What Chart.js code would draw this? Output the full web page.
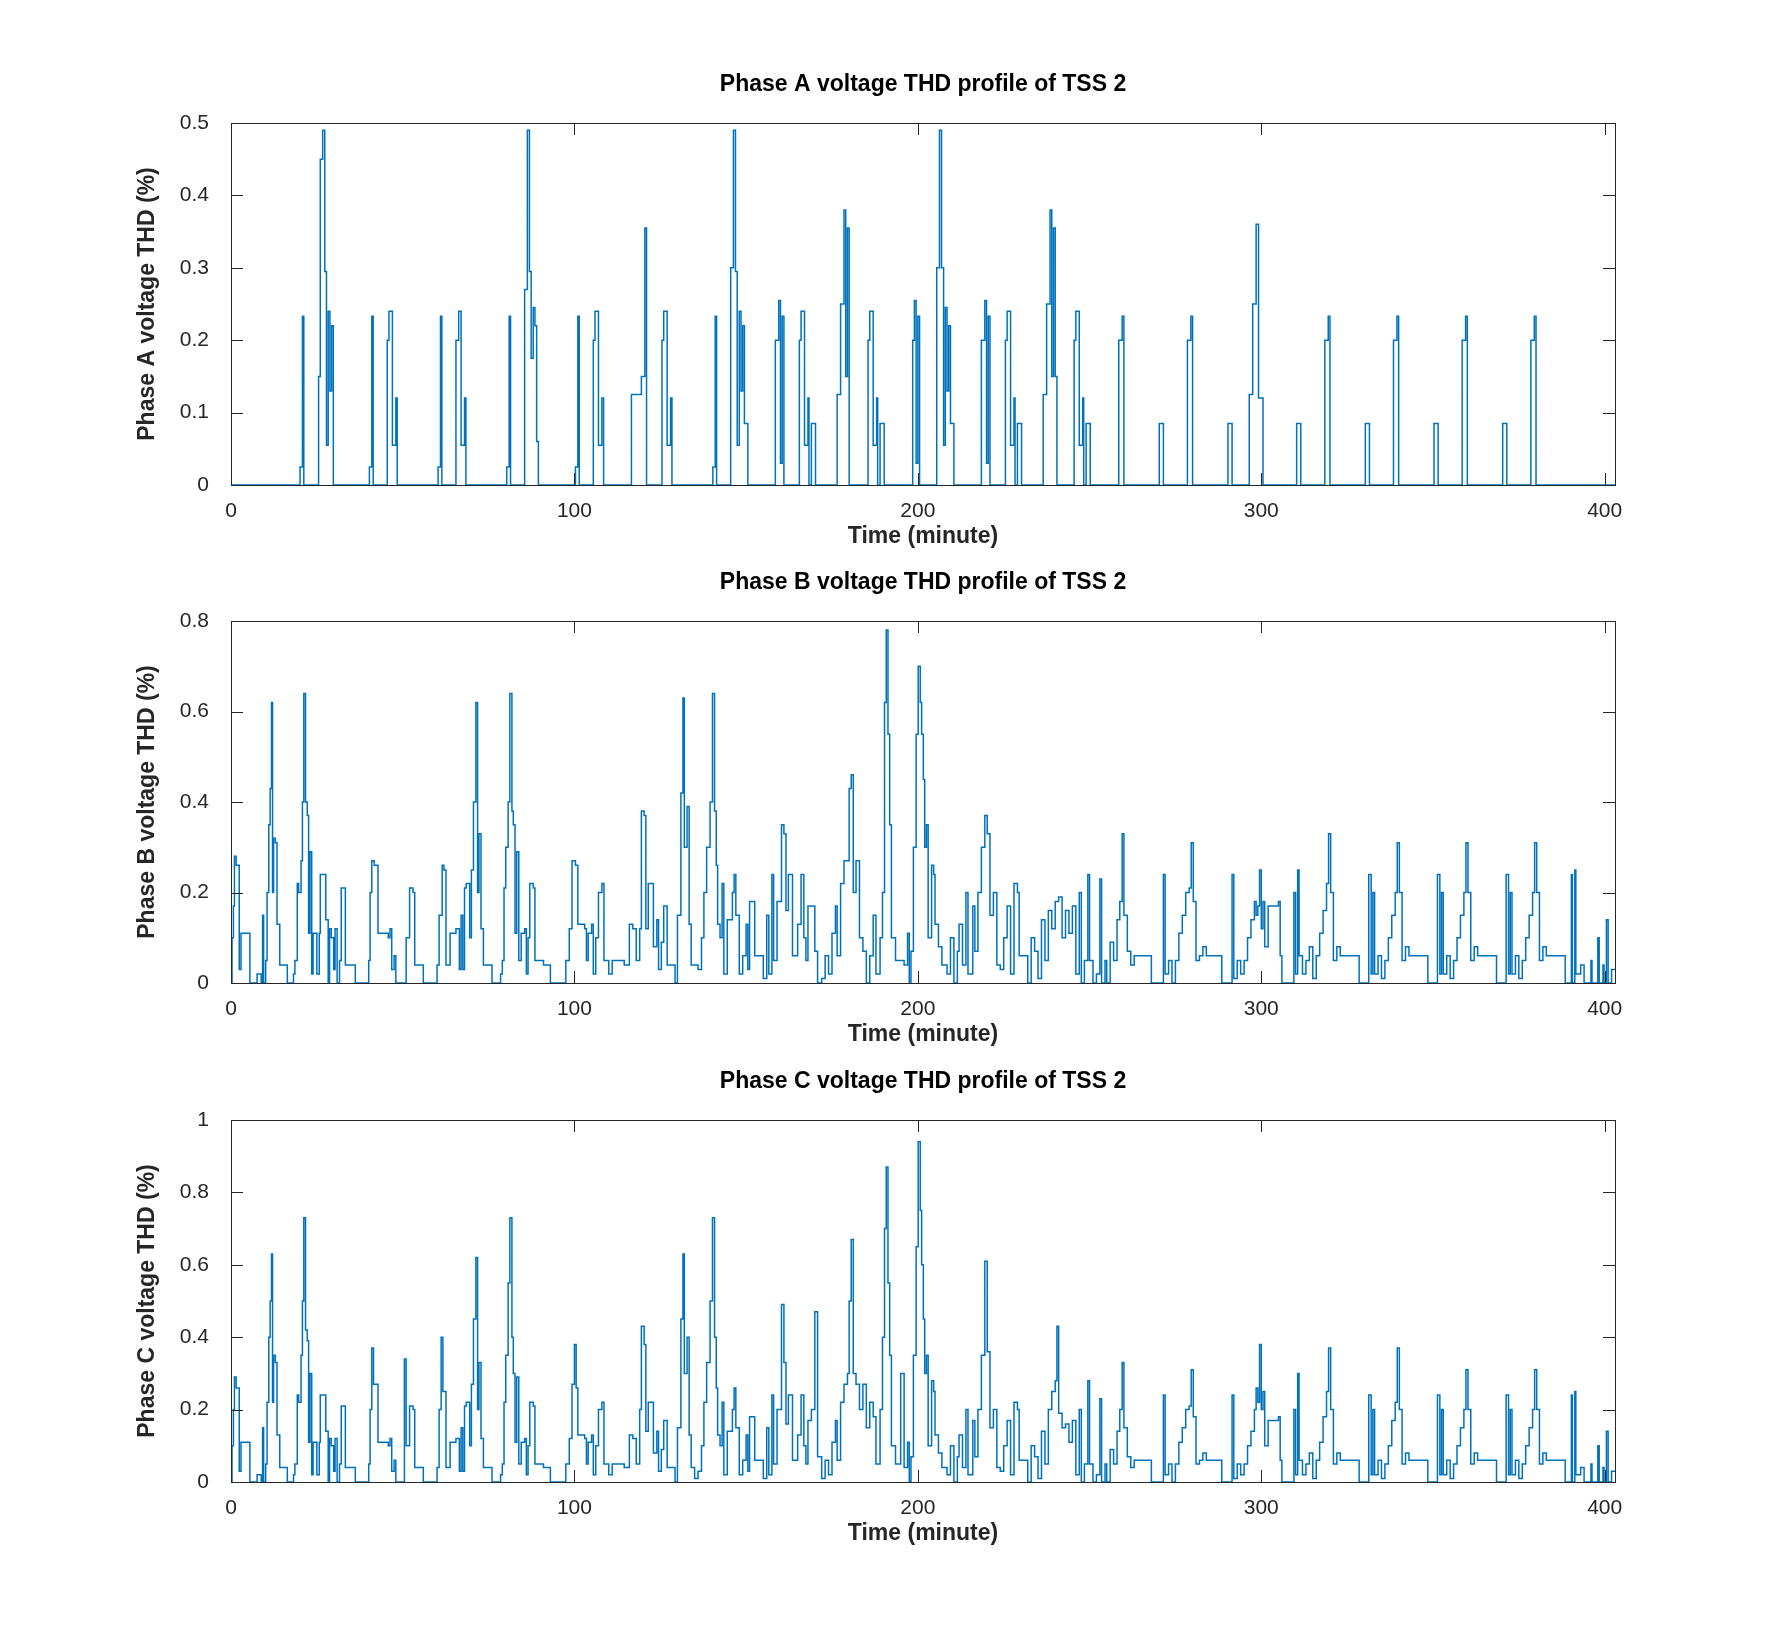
<!DOCTYPE html>
<html>
<head>
<meta charset="utf-8">
<script src="https://cdn.jsdelivr.net/npm/chart.js@4.4.1/dist/chart.umd.min.js"></script>
<style>
  body { margin: 0; background: #fff; }
  canvas { position: absolute; left: 0; }
</style>
</head>
<body>
<canvas id="chartA" width="1765" height="500" style="top:50px"></canvas>
<canvas id="chartB" width="1765" height="500" style="top:548px"></canvas>
<canvas id="chartC" width="1765" height="500" style="top:1047px"></canvas>
<script>
// Time (minute), THD (%) pairs
const phaseA = [
  [0,0],[20,0],[20.1,0.025],[20.8,0.233],[21.2,0],[25,0],[25.5,0.15],[26,0.45],[26.7,0.49],[27.3,0.295],[27.8,0.055],[28.3,0.24],[28.8,0.13],[29.3,0.22],[29.8,0],
  [40,0],[40.3,0.025],[41,0.233],[41.4,0],[45,0],[45.5,0.2],[46,0.24],[47,0.055],[48,0.12],[48.4,0],
  [60,0],[60.3,0.025],[61,0.233],[61.4,0],[65,0],[65.5,0.2],[66.3,0.24],[67,0.055],[68,0.12],[68.4,0],
  [80,0],[80.3,0.025],[81,0.233],[81.4,0],[85,0],[85.5,0.27],[86.3,0.49],[86.9,0.295],[87.4,0.175],[88,0.245],[88.5,0.22],[89,0.06],[89.5,0],
  [100,0],[100.3,0.025],[101,0.233],[101.4,0],[105,0],[105.5,0.2],[106,0.24],[107,0.055],[108,0.12],[108.5,0],
  [116.5,0],[116.6,0.125],[119.5,0.15],[120.5,0.355],[121,0],[125,0],[125.5,0.2],[126,0.24],[127,0.055],[128,0.12],[128.4,0],
  [140,0],[140.3,0.025],[141,0.233],[141.4,0],[145,0],[145.5,0.3],[146.3,0.49],[146.9,0.295],[147.4,0.055],[148,0.24],[148.5,0.13],[149,0.22],[149.5,0.085],[150.5,0],
  [158,0],[158.5,0.2],[159.5,0.255],[160,0.03],[160.5,0.233],[161,0],[165,0],[165.5,0.2],[166,0.24],[167,0.055],[168,0.12],[168.3,0],[169,0.085],[170.2,0],
  [176,0],[176.5,0.125],[177.5,0.25],[178.5,0.38],[179,0.15],[179.5,0.355],[180,0],[185,0],[185.5,0.2],[186,0.24],[187,0.055],[188,0.12],[188.3,0],[189,0.085],[190.2,0],
  [198,0],[198.5,0.2],[199,0.255],[199.5,0.03],[200,0.233],[200.5,0],[205,0],[205.5,0.3],[206.3,0.49],[206.9,0.3],[207.5,0.055],[208,0.245],[208.5,0.13],[209,0.22],[209.5,0.085],[210.5,0],
  [218,0],[218.5,0.2],[219.5,0.255],[220,0.03],[220.5,0.233],[221,0],[225,0],[225.5,0.2],[226,0.24],[227,0.055],[228,0.12],[228.3,0],[229,0.085],[230.2,0],
  [236,0],[236.5,0.125],[237.5,0.25],[238.5,0.38],[239,0.15],[239.5,0.355],[240,0.15],[240.5,0],[245,0],[245.5,0.2],[246,0.24],[247,0.055],[248,0.12],[248.3,0],[249,0.085],[250.2,0],
  [258,0],[258.5,0.2],[259.5,0.233],[260,0],[270,0],[270.3,0.085],[271.5,0],[278,0],[278.5,0.2],[279.5,0.233],[280,0],
  [290,0],[290.3,0.085],[291.5,0],[296,0],[296.5,0.125],[297.5,0.25],[298.5,0.36],[299.2,0.12],[300.5,0],
  [310,0],[310.3,0.085],[311.5,0],[318,0],[318.5,0.2],[319.5,0.233],[320,0],[330,0],[330.3,0.085],[331.5,0],
  [338,0],[338.5,0.2],[339.5,0.233],[340,0],[350,0],[350.3,0.085],[351.5,0],[358,0],[358.5,0.2],[359.5,0.233],[360,0],
  [370,0],[370.3,0.085],[371.5,0],[378,0],[378.5,0.2],[379.5,0.233],[380,0],[403,0]
];

const phaseB = [
  [0,0],[0.3,0.1],[0.7,0.17],[1,0.28],[1.5,0.26],[2.4,0.03],[2.9,0.11],[5.5,0],[7.6,0.02],[8.8,0],[9.2,0.15],[9.5,0],[10.1,0.05],[10.5,0.2],[11,0.35],[11.4,0.43],[11.8,0.62],[12.1,0.2],[12.4,0.32],[12.9,0.31],[13.4,0.13],[14.2,0.04],[16.4,0],
  [18.2,0.02],[18.6,0.05],[19.3,0.22],[19.7,0.2],[20.4,0.27],[20.8,0.4],[21.2,0.64],[21.7,0.4],[22.2,0.37],[22.6,0.11],[23,0.29],[23.5,0.02],[23.9,0.11],[25,0.02],[25.7,0.11],[26,0.24],[27,0.24],[27.6,0.14],[28.3,0],[28.7,0.12],[29.2,0.1],[29.9,0.03],[30.3,0.12],[30.9,0],[31.6,0.05],[32.1,0.21],[32.9,0.21],[33.3,0.04],[36.2,0],
  [39.5,0],[40.1,0.05],[40.5,0.2],[41,0.27],[41.7,0.26],[42.8,0.11],[45.8,0.1],[46.3,0.12],[46.8,0.03],[47.5,0.06],[48,0],[50,0],[51,0.1],[52,0.21],[53,0.2],[53.5,0.04],[56,0],
  [59,0],[60,0.04],[60.6,0.15],[61.5,0.26],[62,0.25],[62.6,0.04],[63.8,0.11],[65.5,0.12],[66.5,0.03],[67,0.15],[67.5,0.03],[68,0.21],[68.5,0.22],[69.5,0.1],[70,0.25],[70.6,0.4],[71.3,0.62],[71.8,0.2],[72.2,0.33],[72.8,0.12],[73.5,0.04],[76,0],
  [78.5,0.02],[79,0.05],[79.5,0.21],[80,0.3],[80.7,0.4],[81.2,0.64],[81.8,0.38],[82.2,0.35],[82.7,0.11],[83.2,0.29],[83.8,0.05],[84.5,0.11],[85.5,0.12],[86,0.02],[86.5,0.1],[87,0.22],[88,0.21],[88.5,0.05],[91,0.04],[93,0],
  [97,0],[97.5,0.05],[98.5,0.12],[99.3,0.27],[100.3,0.26],[101,0.13],[103,0.12],[103.5,0.05],[104,0.11],[105,0.13],[105.5,0.02],[106.2,0.1],[107,0.2],[108,0.22],[108.6,0.05],[110,0.02],[111,0.05],[113,0.05],[114.5,0.04],
  [116,0.13],[117,0.12],[118,0.05],[119,0.12],[119.5,0.38],[120.3,0.37],[120.8,0.12],[121.5,0.22],[122.5,0.22],[123,0.08],[124,0.14],[124.5,0.03],[125.3,0.09],[126,0.17],[127,0.04],[128.5,0.04],[129.3,0],
  [130,0.15],[131,0.42],[131.6,0.63],[132,0.3],[132.8,0.39],[133.4,0.13],[134,0.04],[136,0.03],[137,0.1],[137.7,0.2],[138.5,0.3],[139.5,0.4],[140.2,0.64],[140.8,0.38],[141.3,0.26],[141.7,0.13],[142.4,0.1],[143,0.22],[143.5,0.02],[144.5,0.14],
  [146,0.2],[146.5,0.24],[147,0.15],[148,0.02],[149,0.06],[150,0.13],[150.5,0.03],[151,0.18],[152.5,0.06],[155,0.01],[156,0.15],[156.6,0.02],[157.5,0.24],[158,0.05],[159,0.18],[160.3,0.35],[161,0.33],[161.6,0.16],[162.3,0.24],[163.5,0.06],
  [165,0.13],[166,0.24],[166.8,0.1],[167.4,0.05],[168,0.17],[169,0.17],[170,0.07],[170.8,0],[172,0.01],[173,0.06],[174,0.02],[175,0.11],[176,0.17],[176.5,0.06],[177.5,0.22],[178.5,0.27],[179.5,0.27],[180,0.43],[180.6,0.46],[181.2,0.2],[182,0.27],[183,0.1],[184,0.07],[185,0],
  [186,0.06],[187,0.15],[187.8,0.02],[189,0.1],[189.7,0.2],[190.3,0.62],[190.8,0.78],[191.3,0.55],[191.8,0.35],[192.3,0.1],[193.5,0.05],[196,0.04],[197,0.11],[197.5,0],[198,0.07],[198.7,0.3],[199.5,0.55],[200.1,0.7],[200.7,0.62],[201.1,0.55],[201.6,0.45],[202,0.3],[202.5,0.35],[203,0.1],
  [204,0.26],[204.6,0.24],[205,0.13],[206,0.08],[207,0.04],[208.5,0.02],[209.5,0.1],[210.5,0],[211.5,0.07],[212,0.13],[213,0.04],[214,0.2],[214.6,0.02],[216,0.17],[216.6,0.07],[217.5,0.2],[218.5,0.3],[219.5,0.37],[220.2,0.33],[221,0.15],[222,0.2],[223,0.04],
  [224,0.03],[225,0.1],[226,0.17],[227,0.02],[228,0.22],[229,0.2],[229.5,0.06],[231,0.06],[232,0],[233,0.1],[234,0.07],[235,0.01],[236,0.14],[237,0.05],[238,0.16],[239,0.12],[240,0.18],[241,0.19],[242,0.1],[243,0.16],[244,0.11],[245,0.17],[246,0.02],[247,0.2],[247.6,0],
  [248.5,0.05],[249.5,0.24],[250,0.05],[251,0],[252,0.02],[253,0.23],[253.5,0],[254.5,0.05],[255,0],[256,0.09],[257,0.05],[258,0.14],[258.8,0.18],[259.5,0.33],[260,0.15],[261,0.07],[262,0.04],[263,0.06],[267,0.06],[268,0],
  [271,0],[271.5,0.24],[272,0.02],[273,0.05],[274,0],[275,0.05],[276,0.11],[277,0.15],[278,0.2],[279,0.21],[279.6,0.31],[280.2,0.18],[281,0.05],[282,0.06],[283,0.08],[284,0.06],[288,0.06],[288.5,0],
  [291,0],[291.5,0.24],[292,0.01],[293,0.05],[294,0.02],[295,0.05],[296,0.1],[297,0.14],[298,0.18],[298.5,0.15],[299,0.17],[299.5,0.25],[300,0.12],[300.5,0.18],[301,0.08],[302,0.17],[305,0.18],[305.5,0.06],[306,0],
  [309,0],[309.5,0.2],[310,0.02],[310.6,0.25],[311,0.06],[312,0.02],[313,0.05],[314,0.08],[315,0.01],[316,0.06],[317,0.11],[318,0.16],[319,0.22],[319.6,0.33],[320.2,0.2],[321,0.05],[322,0.08],[323,0.06],[328,0.06],[328.5,0],
  [331,0],[331.3,0.24],[332,0.02],[332.5,0.2],[333,0.02],[334,0.06],[335,0.01],[336,0.05],[337,0.1],[338,0.15],[339,0.2],[339.6,0.31],[340.2,0.2],[341,0.05],[342,0.08],[343,0.06],[348,0.06],[348.5,0],
  [351,0],[351.3,0.24],[352,0.02],[352.5,0.2],[353,0.02],[354,0.06],[355,0.01],[356,0.05],[357,0.1],[358,0.15],[359,0.2],[359.6,0.31],[360.2,0.2],[361,0.05],[362,0.08],[363,0.06],[368,0.06],[368.5,0],
  [371,0],[371.3,0.24],[372,0.02],[372.5,0.2],[373,0.02],[374,0.06],[375,0.01],[376,0.05],[377,0.1],[378,0.15],[379,0.2],[379.6,0.31],[380.2,0.2],[381,0.05],[382,0.08],[383,0.06],[388,0.06],[388.5,0],
  [390,0],[390.3,0.24],[390.6,0],[391.3,0.25],[391.6,0.02],[393,0.04],[394,0],[396,0.05],[396.3,0],[398,0.1],[398.4,0],[399.5,0.04],[399.8,0],[400.5,0.14],[401,0],[402,0.03],[403,0.03]
];

const phaseC = [
  [0,0],[0.3,0.1],[0.7,0.2],[1,0.29],[1.5,0.26],[2.4,0.03],[2.9,0.11],[5.5,0],[7.6,0.02],[8.8,0],[9.2,0.15],[9.5,0],[10.1,0.05],[10.5,0.22],[11,0.4],[11.4,0.5],[11.8,0.63],[12.1,0.22],[12.4,0.35],[12.9,0.33],[13.4,0.13],[14.2,0.04],[16.4,0],
  [18.2,0.02],[18.6,0.05],[19.3,0.24],[19.7,0.22],[20.4,0.35],[20.8,0.5],[21.2,0.73],[21.7,0.42],[22.2,0.39],[22.6,0.11],[23,0.3],[23.5,0.02],[23.9,0.11],[25,0.02],[25.7,0.11],[26,0.24],[27,0.24],[27.6,0.14],[28.3,0],[28.7,0.12],[29.2,0.1],[29.9,0.03],[30.3,0.12],[30.9,0],[31.6,0.05],[32.1,0.21],[32.9,0.21],[33.3,0.04],[36.2,0],
  [39.5,0],[40.1,0.05],[40.5,0.2],[41,0.37],[41.5,0.27],[42.8,0.11],[45.8,0.1],[46.3,0.12],[46.8,0.03],[47.5,0.06],[48,0],[50,0],[50.5,0.34],[51,0.1],[52,0.21],[53,0.2],[53.5,0.04],[56,0],
  [59,0],[60,0.04],[60.6,0.2],[61.2,0.4],[61.7,0.25],[62.6,0.04],[63.8,0.11],[65.5,0.12],[66.5,0.03],[67,0.15],[67.5,0.03],[68,0.21],[68.5,0.22],[69.5,0.1],[70,0.27],[70.6,0.45],[71.3,0.62],[71.8,0.2],[72.2,0.33],[72.8,0.12],[73.5,0.04],[76,0],
  [78.5,0.02],[79,0.05],[79.5,0.22],[80,0.35],[80.7,0.55],[81.2,0.73],[81.8,0.4],[82.2,0.3],[82.7,0.11],[83.2,0.29],[83.8,0.05],[84.5,0.11],[85.5,0.12],[86,0.02],[86.5,0.1],[87,0.22],[88,0.21],[88.5,0.05],[91,0.04],[93,0],
  [97,0],[97.5,0.05],[98.5,0.12],[99.3,0.27],[100,0.38],[100.5,0.26],[101,0.13],[103,0.12],[103.5,0.05],[104,0.11],[105,0.13],[105.5,0.02],[106.2,0.1],[107,0.2],[108,0.22],[108.6,0.05],[110,0.02],[111,0.05],[113,0.05],[114.5,0.04],
  [116,0.13],[117,0.12],[118,0.05],[119,0.2],[119.5,0.43],[120.3,0.38],[120.8,0.14],[121.5,0.22],[122.5,0.22],[123,0.08],[124,0.14],[124.5,0.03],[125.3,0.09],[126,0.17],[127,0.04],[128.5,0.04],[129.3,0],
  [130,0.15],[131,0.45],[131.6,0.63],[132,0.3],[132.8,0.4],[133.4,0.13],[134,0.04],[135,0.01],[136,0.03],[137,0.1],[137.7,0.22],[138.5,0.33],[139.5,0.5],[140.2,0.73],[140.8,0.4],[141.3,0.26],[141.7,0.13],[142.4,0.1],[143,0.22],[143.5,0.02],[144.5,0.14],
  [146,0.2],[146.5,0.26],[147,0.15],[148,0.02],[149,0.06],[150,0.13],[150.5,0.03],[151,0.18],[152.5,0.06],[155,0.01],[156,0.15],[156.6,0.02],[157.5,0.24],[158,0.05],[159,0.2],[160.3,0.49],[161,0.33],[161.6,0.16],[162.3,0.24],[163.5,0.06],
  [165,0.13],[166,0.24],[166.8,0.1],[167.4,0.05],[168,0.17],[169,0.2],[170,0.47],[170.8,0.07],[172,0.01],[173,0.06],[174,0.02],[175,0.11],[176,0.17],[176.5,0.06],[177.5,0.22],[178.5,0.27],[179.5,0.3],[180,0.5],[180.6,0.67],[181.2,0.3],[182,0.27],[183,0.2],[184,0.27],[185,0.15],
  [186,0.22],[187,0.18],[187.8,0.05],[189,0.2],[189.7,0.4],[190.3,0.7],[190.8,0.87],[191.3,0.55],[191.8,0.35],[192.3,0.1],[193.5,0.05],[195,0.3],[196,0.04],[197,0.11],[197.5,0],[198,0.07],[198.7,0.35],[199.5,0.65],[200.1,0.94],[200.7,0.75],[201.1,0.6],[201.6,0.45],[202,0.3],[202.5,0.35],[203,0.1],
  [204,0.28],[204.6,0.25],[205,0.13],[206,0.08],[207,0.04],[208.5,0.02],[209.5,0.1],[210.5,0],[211.5,0.07],[212,0.13],[213,0.04],[214,0.2],[214.6,0.02],[216,0.17],[216.6,0.07],[217.5,0.2],[218.5,0.35],[219.5,0.61],[220.2,0.36],[221,0.15],[222,0.2],[223,0.04],
  [224,0.03],[225,0.1],[226,0.17],[227,0.02],[228,0.22],[229,0.2],[229.5,0.06],[231,0.06],[232,0],[233,0.1],[234,0.07],[235,0.01],[236,0.14],[237,0.05],[238,0.2],[239,0.25],[240,0.28],[240.5,0.43],[241,0.19],[242,0.15],[243,0.16],[244,0.11],[245,0.17],[246,0.02],[247,0.2],[247.6,0],
  [248.5,0.05],[249.5,0.28],[250,0.05],[251,0],[252,0.02],[253,0.23],[253.5,0],[254.5,0.05],[255,0],[256,0.09],[257,0.05],[258,0.14],[258.8,0.2],[259.5,0.33],[260,0.15],[261,0.07],[262,0.04],[263,0.06],[267,0.06],[268,0],
  [271,0],[271.5,0.24],[272,0.02],[273,0.05],[274,0],[275,0.05],[276,0.11],[277,0.15],[278,0.2],[279,0.21],[279.6,0.31],[280.2,0.18],[281,0.05],[282,0.06],[283,0.08],[284,0.06],[288,0.06],[288.5,0],
  [291,0],[291.5,0.24],[292,0.01],[293,0.05],[294,0.02],[295,0.05],[296,0.1],[297,0.14],[298,0.2],[298.5,0.26],[299,0.22],[299.5,0.38],[300,0.2],[300.5,0.25],[301,0.1],[302,0.17],[305,0.18],[305.5,0.06],[306,0],
  [309,0],[309.5,0.2],[310,0.02],[310.6,0.3],[311,0.06],[312,0.02],[313,0.05],[314,0.08],[315,0.01],[316,0.06],[317,0.11],[318,0.18],[319,0.25],[319.6,0.37],[320.2,0.2],[321,0.05],[322,0.08],[323,0.06],[328,0.06],[328.5,0],
  [331,0],[331.3,0.24],[332,0.02],[332.5,0.2],[333,0.02],[334,0.06],[335,0.01],[336,0.05],[337,0.1],[338,0.17],[339,0.22],[339.6,0.37],[340.2,0.2],[341,0.05],[342,0.08],[343,0.06],[348,0.06],[348.5,0],
  [351,0],[351.3,0.24],[352,0.02],[352.5,0.2],[353,0.02],[354,0.06],[355,0.01],[356,0.05],[357,0.1],[358,0.15],[359,0.2],[359.6,0.31],[360.2,0.2],[361,0.05],[362,0.08],[363,0.06],[368,0.06],[368.5,0],
  [371,0],[371.3,0.24],[372,0.02],[372.5,0.2],[373,0.02],[374,0.06],[375,0.01],[376,0.05],[377,0.1],[378,0.15],[379,0.2],[379.6,0.31],[380.2,0.2],[381,0.05],[382,0.08],[383,0.06],[388,0.06],[388.5,0],
  [390,0],[390.3,0.24],[390.6,0],[391.3,0.25],[391.6,0.02],[393,0.04],[394,0],[396,0.05],[396.3,0],[398,0.1],[398.4,0],[399.5,0.04],[399.8,0],[400.5,0.14],[401,0],[402,0.03],[403,0.03]
];

const xTicks = [0, 100, 200, 300, 400];
const FONT = 'Liberation Sans, Arial, sans-serif';
const LINE_COLOR = '#0072BD';

// MATLAB-style box with inward ticks on all sides, and title centred over the axes
const boxPlugin = {
  id: 'box',
  afterDraw(chart, args, opts) {
    const { ctx, chartArea: a, scales } = chart;
    ctx.save();
    ctx.strokeStyle = '#262626';
    ctx.lineWidth = 1;
    ctx.strokeRect(a.left + 0.5, a.top + 0.5, a.right - a.left, a.bottom - a.top);
    const len = 12;
    ctx.beginPath();
    scales.x.ticks.forEach(t => {
      const px = Math.round(scales.x.getPixelForValue(t.value)) + 0.5;
      ctx.moveTo(px, a.bottom); ctx.lineTo(px, a.bottom - len);
      ctx.moveTo(px, a.top); ctx.lineTo(px, a.top + len);
    });
    scales.y.ticks.forEach(t => {
      const py = Math.round(scales.y.getPixelForValue(t.value)) + 0.5;
      ctx.moveTo(a.left, py); ctx.lineTo(a.left + len, py);
      ctx.moveTo(a.right, py); ctx.lineTo(a.right - len, py);
    });
    ctx.stroke();
    ctx.fillStyle = '#000';
    ctx.font = 'bold 23px ' + FONT;
    ctx.textAlign = 'center';
    ctx.textBaseline = 'alphabetic';
    ctx.fillText(opts.title, (a.left + a.right) / 2, a.top - 32);
    ctx.restore();
  }
};

function makeChart(id, title, yTitle, points, yMax, yStep) {
  const ctx = document.getElementById(id).getContext('2d');
  return new Chart(ctx, {
    type: 'line',
    data: {
      datasets: [{
        data: points.map(p => ({ x: p[0], y: p[1] })),
        borderColor: LINE_COLOR,
        borderWidth: 1.5,
        pointRadius: 0,
        stepped: true,
        fill: false
      }]
    },
    options: {
      responsive: false,
      devicePixelRatio: 1,
      animation: false,
      layout: { padding: { left: 134, right: 150, top: 73, bottom: 0 } },
      plugins: {
        legend: { display: false },
        tooltip: { enabled: false },
        title: { display: false },
        box: { title: title }
      },
      scales: {
        x: {
          type: 'linear',
          min: 0,
          max: 403,
          afterBuildTicks: s => { s.ticks = xTicks.map(v => ({ value: v })); },
          afterFit: s => { s.height = 65; },
          grid: { display: false },
          border: { display: false },
          ticks: { color: '#262626', font: { family: FONT, size: 21 }, padding: 6, maxRotation: 0 },
          title: { display: true, text: 'Time (minute)', color: '#262626', font: { family: FONT, size: 23, weight: 'bold' }, padding: 0 }
        },
        y: {
          min: 0,
          max: yMax,
          afterFit: s => { s.width = 97; },
          grid: { display: false },
          border: { display: false },
          ticks: { stepSize: yStep, color: '#262626', font: { family: FONT, size: 21 }, padding: 14,
                   callback: v => String(Math.round(v * 10) / 10) },
          title: { display: true, text: yTitle, color: '#262626', font: { family: FONT, size: 23, weight: 'bold' }, padding: { top: 0, bottom: 4 } }
        }
      }
    },
    plugins: [boxPlugin]
  });
}

makeChart('chartA', 'Phase A voltage THD profile of TSS 2', 'Phase A voltage THD (%)', phaseA, 0.5, 0.1);
makeChart('chartB', 'Phase B voltage THD profile of TSS 2', 'Phase B voltage THD (%)', phaseB, 0.8, 0.2);
makeChart('chartC', 'Phase C voltage THD profile of TSS 2', 'Phase C voltage THD (%)', phaseC, 1, 0.2);
</script>
</body>
</html>
